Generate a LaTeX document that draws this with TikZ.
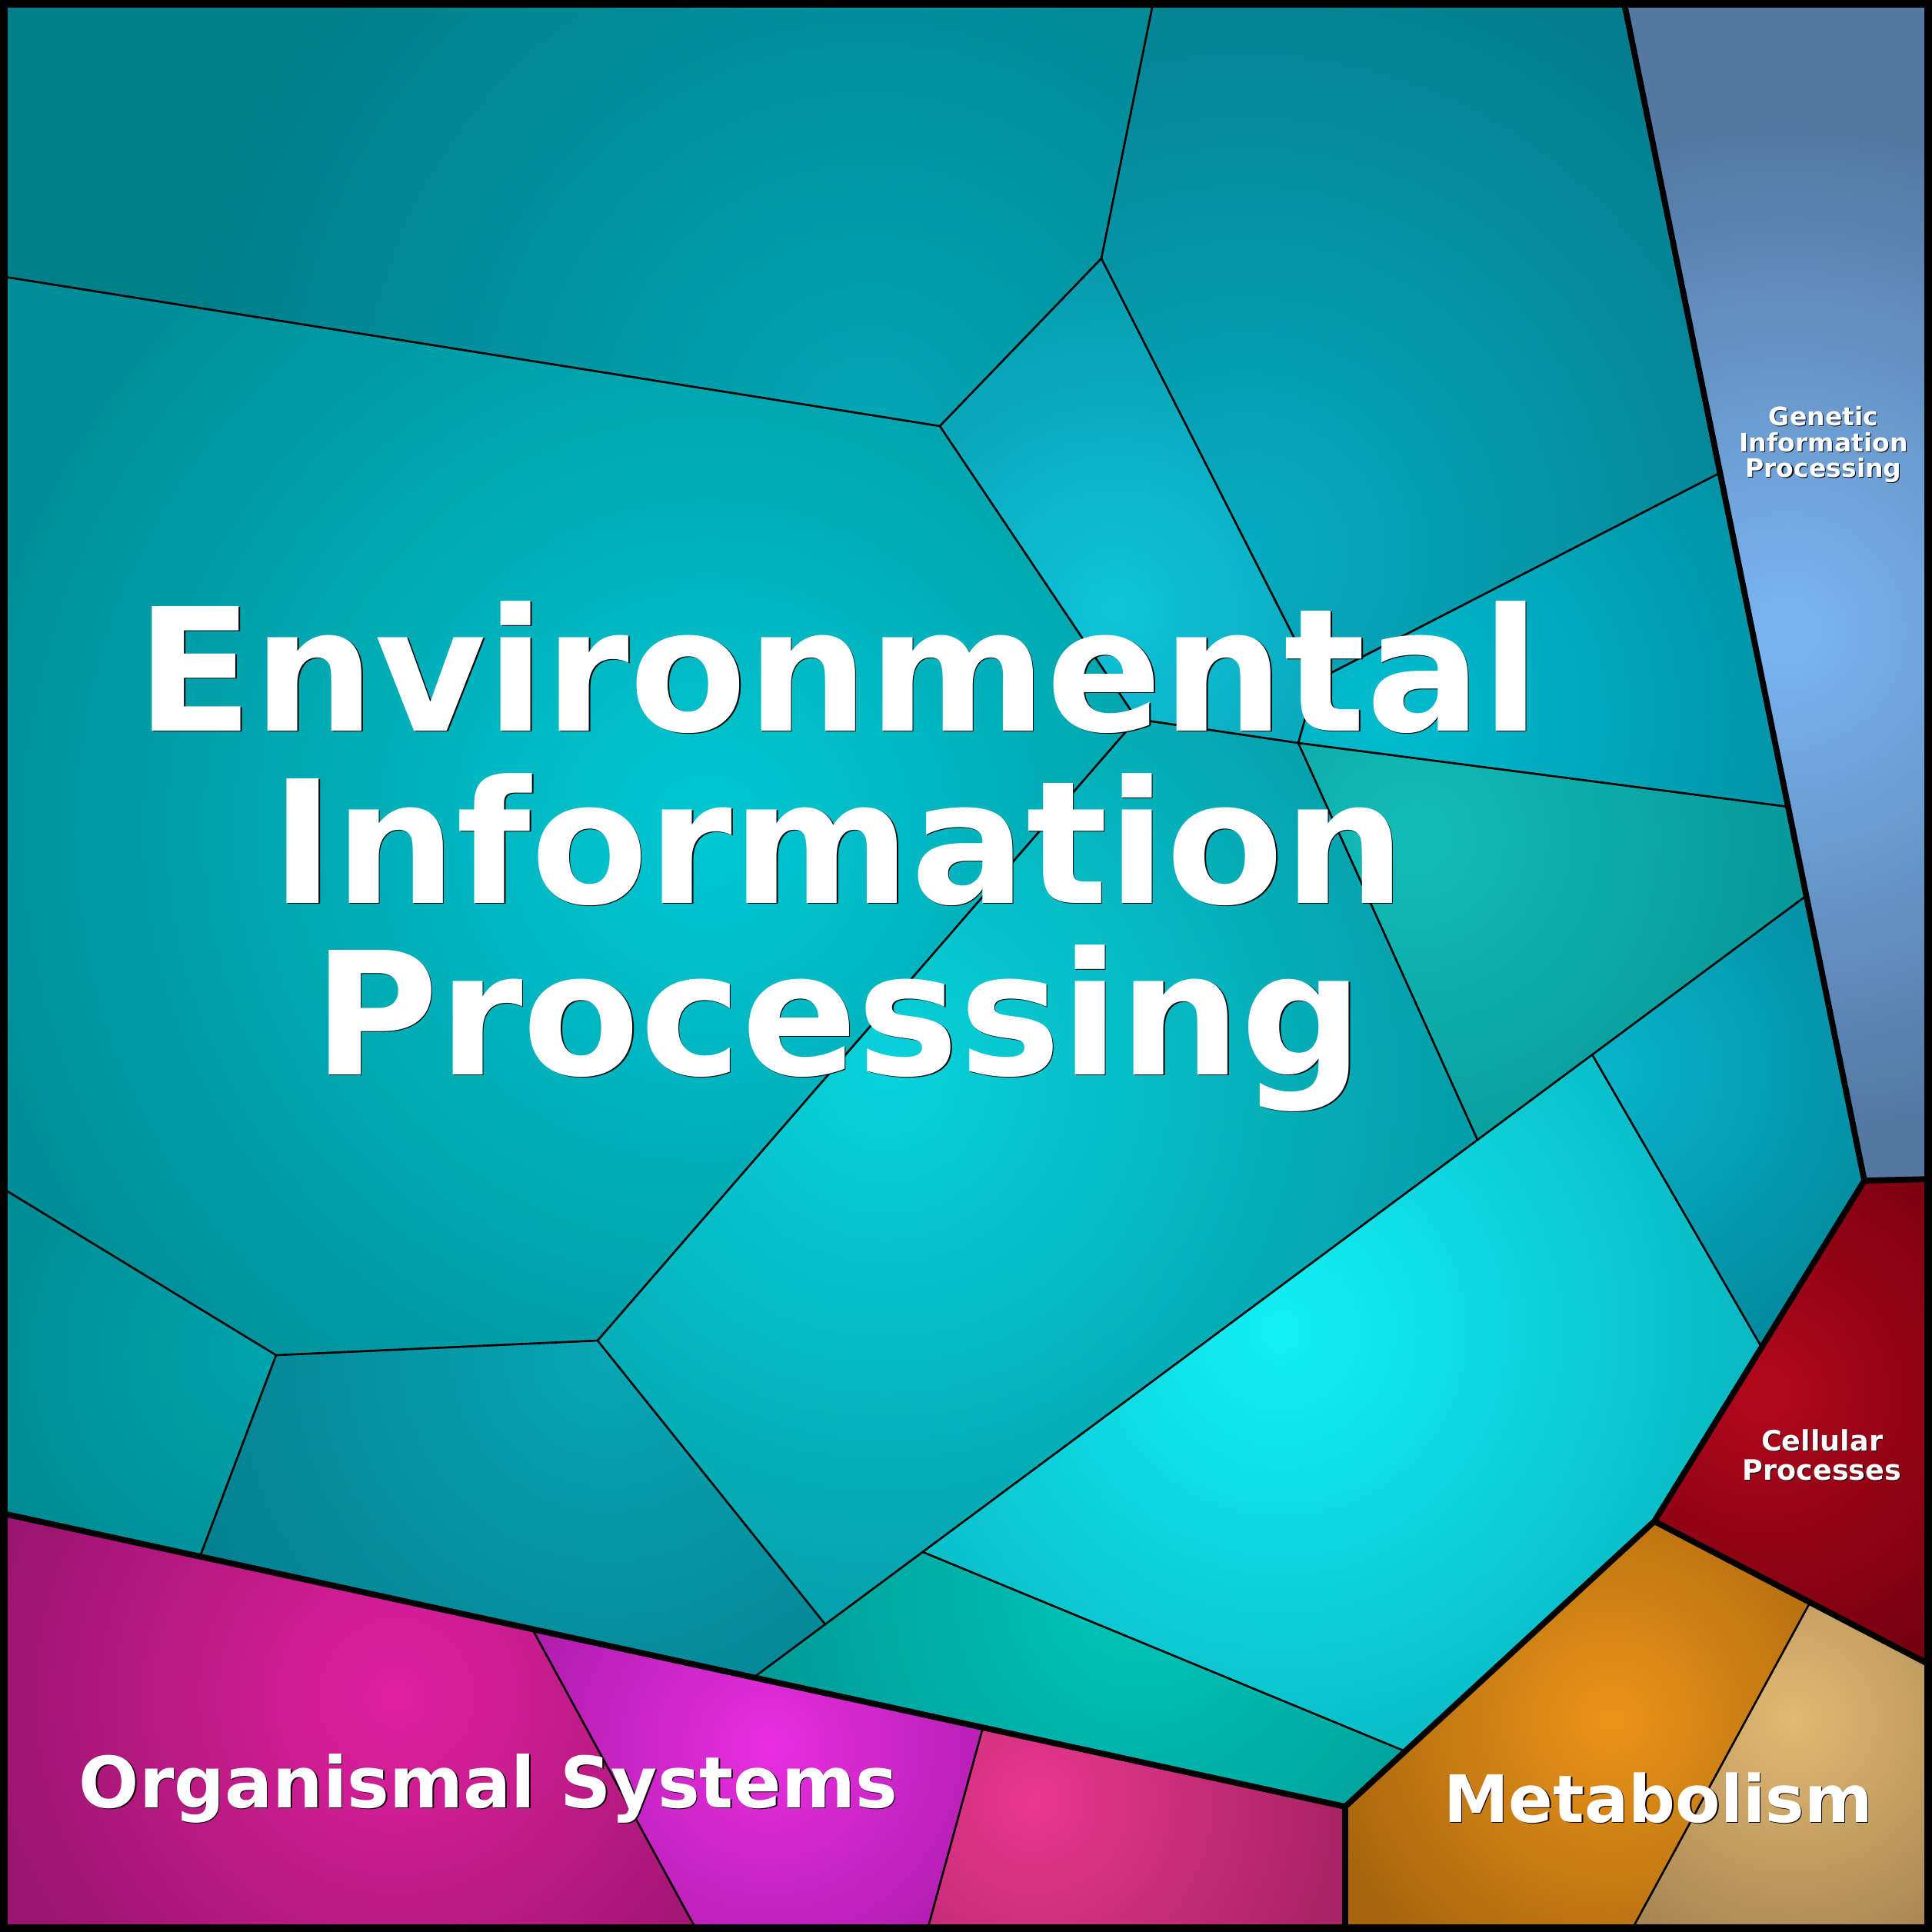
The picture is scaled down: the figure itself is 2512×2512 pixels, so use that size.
\documentclass[tikz,border=0pt]{standalone}
\usepackage{fontspec}
\setmainfont{DejaVu Sans}
\newcommand\vcell[5]{\begin{scope}\clip #1; \fill[#5] (0,0) rectangle (2512,2512); \shade[inner color=#4, outer color=#5] #2 circle (#3);\end{scope}}
\newcommand\shlabel[5]{%
  \node[anchor=base,inner sep=0pt,text=black,font={\fontsize{#3}{#3}\selectfont\bfseries},xshift=#4,yshift=-#4] at #2 {#5};
  \node[anchor=base,inner sep=0pt,text=white,font={\fontsize{#3}{#3}\selectfont\bfseries}] (#1) at #2 {#5};}
\definecolor{ai}{HTML}{02A6B6}\definecolor{ao}{HTML}{007E8A}
\definecolor{bi}{HTML}{06ACC0}\definecolor{bo}{HTML}{047E8E}
\definecolor{ci}{HTML}{10C4DA}\definecolor{co}{HTML}{0696A8}
\definecolor{di}{HTML}{00BCD0}\definecolor{do}{HTML}{028FA2}
\definecolor{ei}{HTML}{12BCB6}\definecolor{eo}{HTML}{08989A}
\definecolor{fi}{HTML}{08B4CA}\definecolor{fo}{HTML}{03889C}
\definecolor{gi}{HTML}{12F0F6}\definecolor{go}{HTML}{08ACB8}
\definecolor{hi}{HTML}{00C6BA}\definecolor{ho}{HTML}{009C96}
\definecolor{ii}{HTML}{00C8D2}\definecolor{io}{HTML}{008D97}
\definecolor{ji}{HTML}{08D2DA}\definecolor{jo}{HTML}{049EAA}
\definecolor{ki}{HTML}{08A6B6}\definecolor{ko}{HTML}{047C8B}
\definecolor{li}{HTML}{00A4AC}\definecolor{lo}{HTML}{00878F}
\definecolor{o1i}{HTML}{E020A0}\definecolor{o1o}{HTML}{9A156E}
\definecolor{o2i}{HTML}{E82EE0}\definecolor{o2o}{HTML}{A81CA8}
\definecolor{o3i}{HTML}{E83890}\definecolor{o3o}{HTML}{A82363}
\definecolor{m1i}{HTML}{EA941A}\definecolor{m1o}{HTML}{A8650E}
\definecolor{m2i}{HTML}{E2BA72}\definecolor{m2o}{HTML}{A08050}
\definecolor{cpi}{HTML}{B2081C}\definecolor{cpo}{HTML}{760010}
\definecolor{gpi}{HTML}{7CB6F2}\definecolor{gpo}{HTML}{5478A2}
\begin{document}
\begin{tikzpicture}[x=0.01cm,y=-0.01cm,
  vthin/.style={line width=0.75pt,black,line join=round},
  vthick/.style={line width=2.2pt,black,line join=round},
  frame/.style={line width=2.85pt,black}]
\useasboundingbox (0,0) rectangle (2512,2512);
\coordinate (TL) at (0,0);
\coordinate (TR) at (2512,0);
\coordinate (BR) at (2512,2512);
\coordinate (BL) at (0,2512);
\coordinate (A) at (1500,0);
\coordinate (B) at (1432,336);
\coordinate (C) at (1222,554);
\coordinate (D) at (0,359);
\coordinate (V1) at (1711,885);
\coordinate (V2) at (1478,935);
\coordinate (J) at (1688,966);
\coordinate (T) at (2111,0);
\coordinate (G1) at (2236,615);
\coordinate (G2) at (2325,1049);
\coordinate (G3) at (2348,1165);
\coordinate (GC) at (2424,1535);
\coordinate (CR) at (2512,1533);
\coordinate (K) at (1921,1482);
\coordinate (L1) at (2070,1371);
\coordinate (L2) at (2290,1751);
\coordinate (CM) at (2151,1978);
\coordinate (L3) at (1200,2018);
\coordinate (L4) at (1827,2277);
\coordinate (EM) at (1749,2349);
\coordinate (L5) at (1073,2112);
\coordinate (LE) at (980,2181);
\coordinate (M) at (777,1743);
\coordinate (N) at (359,1762);
\coordinate (Q) at (0,1543);
\coordinate (R) at (260,2024);
\coordinate (EO) at (0,1967);
\coordinate (O1) at (692,2118);
\coordinate (O2) at (907,2512);
\coordinate (O3) at (1278,2246);
\coordinate (O4) at (1205,2512);
\coordinate (EB) at (1749,2512);
\coordinate (MC) at (2512,2166);
\coordinate (M1) at (2352,2086);
\coordinate (M2) at (2120,2512);
% cells
\vcell{(TL)--(A)--(B)--(C)--(D)--cycle}{(1130,560)}{900}{ai}{ao}
\vcell{(A)--(T)--(G1)--(V1)--(B)--cycle}{(1620,720)}{800}{bi}{bo}
\vcell{(C)--(B)--(V1)--(J)--(V2)--cycle}{(1450,793)}{500}{ci}{co}
\vcell{(V1)--(G1)--(G2)--(J)--cycle}{(1800,930)}{600}{di}{do}
\vcell{(J)--(G2)--(G3)--(K)--cycle}{(1840,1090)}{500}{ei}{eo}
\vcell{(G3)--(GC)--(L2)--(L1)--cycle}{(2090,1390)}{420}{fi}{fo}
\vcell{(L1)--(L2)--(CM)--(L4)--(L3)--cycle}{(1665,1730)}{750}{gi}{go}
\vcell{(L3)--(L4)--(EM)--(LE)--cycle}{(1480,2070)}{500}{hi}{ho}
\vcell{(D)--(C)--(V2)--(M)--(N)--(Q)--cycle}{(920,1080)}{1000}{ii}{io}
\vcell{(V2)--(J)--(K)--(L5)--(M)--cycle}{(1150,1400)}{750}{ji}{jo}
\vcell{(N)--(M)--(L5)--(LE)--(R)--cycle}{(790,1760)}{650}{ki}{ko}
\vcell{(Q)--(N)--(R)--(EO)--cycle}{(340,1760)}{450}{li}{lo}
\vcell{(EO)--(O1)--(O2)--(BL)--cycle}{(515,2205)}{540}{o1i}{o1o}
\vcell{(O1)--(O3)--(O4)--(O2)--cycle}{(1000,2270)}{370}{o2i}{o2o}
\vcell{(O3)--(EM)--(EB)--(O4)--cycle}{(1345,2340)}{400}{o3i}{o3o}
\vcell{(EM)--(CM)--(M1)--(M2)--(EB)--cycle}{(2095,2235)}{390}{m1i}{m1o}
\vcell{(M1)--(MC)--(BR)--(M2)--cycle}{(2330,2235)}{360}{m2i}{m2o}
\vcell{(GC)--(CR)--(MC)--(CM)--cycle}{(2290,1810)}{380}{cpi}{cpo}
\vcell{(T)--(TR)--(CR)--(GC)--cycle}{(2322,820)}{650}{gpi}{gpo}
% thin borders
\draw[vthin] (D)--(C)--(B)--(A);
\draw[vthin] (B)--(V1)--(G1);
\draw[vthin] (V1)--(J)--(G2);
\draw[vthin] (C)--(V2)--(J)--(K);
\draw[vthin] (G3)--(LE);
\draw[vthin] (L1)--(L2);
\draw[vthin] (L3)--(L4);
\draw[vthin] (V2)--(M)--(L5);
\draw[vthin] (M)--(N)--(Q);
\draw[vthin] (N)--(R);
\draw[vthin] (O1)--(O2);
\draw[vthin] (O3)--(O4);
\draw[vthin] (M1)--(M2);
% thick borders
\draw[vthick] (EO)--(EM)--(EB);
\draw[vthick] (EM)--(CM)--(GC)--(T);
\draw[vthick] (GC)--(CR);
\draw[vthick] (CM)--(MC);
\draw[frame] (5,5) rectangle (2507,2507);
% labels
\shlabel{env1}{(1090,950)}{63.2pt}{0.45pt}{Environmental}
\shlabel{env2}{(1090,1174)}{63.2pt}{0.45pt}{Information}
\shlabel{env3}{(1090,1397)}{63.2pt}{0.45pt}{Processing}
\shlabel{gen1}{(2371,553)}{9.4pt}{0.3pt}{Genetic}
\shlabel{gen2}{(2371,587)}{9.4pt}{0.3pt}{Information}
\shlabel{gen3}{(2371,620)}{9.4pt}{0.3pt}{Processing}
\shlabel{cel1}{(2369,1886)}{10.4pt}{0.3pt}{Cellular}
\shlabel{cel2}{(2369,1924)}{10.4pt}{0.3pt}{Processes}
\shlabel{org}{(635,2350)}{26.2pt}{0.4pt}{Organismal Systems}
\shlabel{met}{(2156,2369)}{24.2pt}{0.4pt}{Metabolism}
\end{tikzpicture}
\end{document}
